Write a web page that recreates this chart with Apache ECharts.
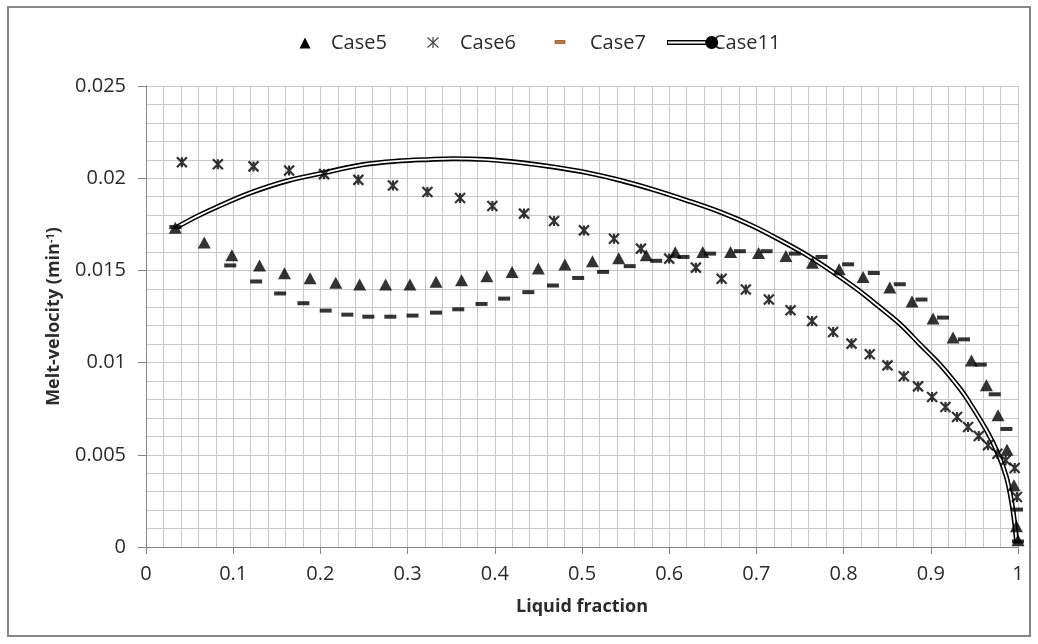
<!DOCTYPE html>
<html>
<head>
<meta charset="utf-8">
<script src="https://cdn.jsdelivr.net/npm/echarts@6/dist/echarts.min.js"></script>
<style>
  html, body { margin: 0; padding: 0; background: #fff; }
  #chart { width: 1038px; height: 644px; }
</style>
</head>
<body>
<div id="chart"></div>
<script>
// Melt-velocity against liquid fraction for four cases.
const case5X = [0.0336, 0.0668, 0.0985, 0.1302, 0.1588, 0.1882, 0.2176, 0.245, 0.2748, 0.3027,
  0.3326, 0.3619, 0.3909, 0.4198, 0.4499, 0.4804, 0.512, 0.5421, 0.5737, 0.6069,
  0.6385, 0.6704, 0.7025, 0.7338, 0.7643, 0.7949, 0.8224, 0.853, 0.8785, 0.9026,
  0.9255, 0.9466, 0.9638, 0.9771, 0.9874, 0.9954, 0.9982, 1.0];
const case5Y = [0.01731, 0.01651, 0.01582, 0.01527, 0.01485, 0.01458, 0.01433, 0.01424, 0.01424, 0.01424,
  0.01438, 0.01447, 0.01468, 0.01492, 0.0151, 0.01532, 0.0155, 0.01566, 0.01582, 0.01599,
  0.016, 0.016, 0.01594, 0.01578, 0.01542, 0.01506, 0.01464, 0.01407, 0.01332, 0.01239,
  0.01136, 0.01012, 0.00877, 0.00714, 0.00528, 0.00335, 0.00112, 0.00036];

const case6X = [0.0412, 0.0824, 0.1233, 0.1641, 0.2042, 0.2435, 0.2832, 0.3227, 0.3602, 0.3972,
  0.4335, 0.4679, 0.5023, 0.5367, 0.5676, 0.6, 0.6306, 0.6601, 0.6879, 0.7143,
  0.7392, 0.7639, 0.788, 0.8091, 0.83, 0.8503, 0.869, 0.8854, 0.9015, 0.9168,
  0.9301, 0.9427, 0.955, 0.9656, 0.9764, 0.9859, 0.9962, 0.9988];
const case6Y = [0.02087, 0.02076, 0.02064, 0.02042, 0.02022, 0.01991, 0.0196, 0.01925, 0.01893, 0.01849,
  0.01808, 0.01768, 0.01717, 0.01672, 0.01618, 0.01564, 0.01515, 0.01455, 0.01396, 0.01342,
  0.01284, 0.01226, 0.01166, 0.01103, 0.01045, 0.00985, 0.00926, 0.00871, 0.00813, 0.00759,
  0.00705, 0.00651, 0.00602, 0.00552, 0.00506, 0.0047, 0.00428, 0.00271];

const case7X = [0.0336, 0.0966, 0.1263, 0.1538, 0.1805, 0.2061, 0.2309, 0.255, 0.2802, 0.3057,
  0.3326, 0.3581, 0.3848, 0.4107, 0.4385, 0.4667, 0.4956, 0.5242, 0.5547, 0.5851,
  0.6164, 0.6469, 0.681, 0.7117, 0.7441, 0.7747, 0.8052, 0.8346, 0.8644, 0.8893,
  0.914, 0.9381, 0.9573, 0.9733, 0.9867, 0.9988, 1.0];
const case7Y = [0.01735, 0.01527, 0.0144, 0.01375, 0.01322, 0.01282, 0.0126, 0.01249, 0.01249, 0.01255,
  0.01271, 0.01289, 0.01318, 0.01347, 0.01382, 0.01418, 0.01459, 0.01492, 0.01523, 0.01552,
  0.01573, 0.01591, 0.01604, 0.01604, 0.01591, 0.01573, 0.01533, 0.01486, 0.01425, 0.01342,
  0.01244, 0.01126, 0.00989, 0.00828, 0.0064, 0.00203, 0.0003];

const case11X = [0.0355, 0.0584, 0.0814, 0.1195, 0.1616, 0.2043, 0.2494, 0.2876, 0.3258, 0.3525,
  0.3908, 0.429, 0.4671, 0.5054, 0.5435, 0.5817, 0.62, 0.6581, 0.6963, 0.7307,
  0.7613, 0.788, 0.8148, 0.8415, 0.8645, 0.8874, 0.9103, 0.9332, 0.9427, 0.9638,
  0.9771, 0.9867, 0.9924, 0.9962, 0.9985];
const case11Y = [0.01735, 0.01793, 0.01844, 0.0192, 0.01985, 0.0203, 0.02074, 0.02093, 0.02102, 0.02106,
  0.02101, 0.02085, 0.02061, 0.0203, 0.01989, 0.01938, 0.0188, 0.01817, 0.0174, 0.01655,
  0.01573, 0.0149, 0.014, 0.013, 0.0121, 0.011, 0.0099, 0.0086, 0.00796, 0.00633,
  0.00506, 0.0038, 0.00253, 0.00128, 0.0002];

const xTickLabels = ['0', '0.1', '0.2', '0.3', '0.4', '0.5', '0.6', '0.7', '0.8', '0.9', '1'];
const yTickLabels = ['0', '0.005', '0.01', '0.015', '0.02', '0.025'];

const seriesNames = ['Case5', 'Case6', 'Case7', 'Case11'];

const pairs = (xs, ys) => xs.map((x, i) => [x, ys[i]]);

const FONT = '"Open Sans", "Liberation Sans", sans-serif';
const TEXT = '#2b2b2b';
const GRID = '#c8c8c8';
const AXIS = '#868686';

const chart = echarts.init(document.getElementById('chart'), null, { renderer: 'canvas' });

const legendFont = '20px ' + FONT;

chart.setOption({
  animation: false,
  backgroundColor: '#fff',
  grid: { left: 146, right: 20, top: 86, bottom: 97, containLabel: false },
  xAxis: {
    type: 'value', min: 0, max: 1, interval: 0.1,
    name: 'Liquid fraction', nameLocation: 'middle', nameGap: 51,
    nameTextStyle: { fontFamily: FONT, fontSize: 18, fontWeight: 'bold', color: TEXT },
    axisLine: { show: true, onZero: false, lineStyle: { color: AXIS, width: 1 } },
    axisTick: { show: true, length: 7, lineStyle: { color: AXIS } },
    axisLabel: {
      margin: 17, fontFamily: FONT, fontSize: 20, color: TEXT,
      formatter: v => xTickLabels[Math.round(v * 10)]
    },
    splitLine: { show: true, lineStyle: { color: GRID, width: 1 } },
    minorTick: { show: false, splitNumber: 5 },
    minorSplitLine: { show: true, lineStyle: { color: GRID, width: 1 } }
  },
  yAxis: {
    type: 'value', min: 0, max: 0.025, interval: 0.005,
    name: 'Melt-velocity (min{sup|-1})', nameLocation: 'middle', nameGap: 83,
    nameTextStyle: {
      fontFamily: FONT, fontSize: 18, fontWeight: 'bold', color: TEXT,
      rich: { sup: { fontFamily: FONT, fontSize: 11, fontWeight: 'bold', color: TEXT, verticalAlign: 'top' } }
    },
    axisLine: { show: true, onZero: false, lineStyle: { color: AXIS, width: 1 } },
    axisTick: { show: true, length: 8, lineStyle: { color: AXIS } },
    axisLabel: {
      margin: 20, fontFamily: FONT, fontSize: 20, color: TEXT,
      formatter: v => yTickLabels[Math.round(v / 0.005)]
    },
    splitLine: { show: true, lineStyle: { color: GRID, width: 1 } },
    minorTick: { show: false, splitNumber: 5 },
    minorSplitLine: { show: true, lineStyle: { color: GRID, width: 1 } }
  },
  series: [
    {
      // outer dark stroke of the double line
      name: seriesNames[3], type: 'line', smooth: 0.35, z: 2,
      data: pairs(case11X, case11Y),
      showSymbol: false, symbol: 'none',
      lineStyle: { color: '#000', width: 5 }
    },
    {
      // light core of the double line
      name: seriesNames[3] + '-core', type: 'line', smooth: 0.35, z: 3,
      data: pairs(case11X, case11Y),
      showSymbol: false, symbol: 'none', silent: true,
      lineStyle: { color: '#fff', width: 1.8 }
    },
    {
      name: seriesNames[0], type: 'scatter', z: 4,
      data: pairs(case5X, case5Y),
      symbol: 'triangle', symbolSize: [13, 12],
      itemStyle: { color: '#000' }
    },
    {
      name: seriesNames[1], type: 'scatter', z: 4,
      data: pairs(case6X, case6Y),
      symbol: 'path://M0,0L10,10M10,0L0,10M5,0L5,10', symbolSize: [10, 10],
      itemStyle: { color: '#000', borderColor: '#000', borderWidth: 2.2 }
    },
    {
      name: seriesNames[2], type: 'scatter', z: 4,
      data: pairs(case7X, case7Y),
      symbol: 'rect', symbolSize: [12, 4],
      itemStyle: { color: '#000' }
    }
  ],
  graphic: [
    // chart frame
    { type: 'rect', z: 0, silent: true,
      shape: { x: 8, y: 7, width: 1022, height: 629 },
      style: { fill: 'none', stroke: '#878787', lineWidth: 2 } },
    // legend: Case5
    { type: 'polygon', z: 10, shape: { points: [[305, 37.5], [299.5, 48.5], [310.5, 48.5]] },
      style: { fill: '#000' } },
    { type: 'text', z: 10, style: { text: seriesNames[0], x: 331, y: 43, font: legendFont, fill: TEXT, verticalAlign: 'middle' } },
    // legend: Case6
    { type: 'polyline', z: 10, shape: { points: [[427.5, 37.5], [438.5, 47.5]] }, style: { stroke: '#444', lineWidth: 1.2 } },
    { type: 'polyline', z: 10, shape: { points: [[438.5, 37.5], [427.5, 47.5]] }, style: { stroke: '#444', lineWidth: 1.2 } },
    { type: 'polyline', z: 10, shape: { points: [[433, 37], [433, 48]] }, style: { stroke: '#444', lineWidth: 1.2 } },
    { type: 'text', z: 10, style: { text: seriesNames[1], x: 460, y: 43, font: legendFont, fill: TEXT, verticalAlign: 'middle' } },
    // legend: Case7
    { type: 'rect', z: 10, shape: { x: 555, y: 40.5, width: 10, height: 3 },
      style: { fill: '#c87533', stroke: '#6b3a10', lineWidth: 0.6 } },
    { type: 'text', z: 10, style: { text: seriesNames[2], x: 590, y: 43, font: legendFont, fill: TEXT, verticalAlign: 'middle' } },
    // legend: Case11
    { type: 'polyline', z: 10, shape: { points: [[667, 42.5], [710, 42.5]] }, style: { stroke: '#000', lineWidth: 5 } },
    { type: 'polyline', z: 11, shape: { points: [[668, 42.5], [710, 42.5]] }, style: { stroke: '#fff', lineWidth: 1.8 } },
    { type: 'text', z: 11, style: { text: seriesNames[3], x: 713, y: 43, font: legendFont, fill: TEXT, verticalAlign: 'middle' } },
    { type: 'circle', z: 12, shape: { cx: 711.7, cy: 42.5, r: 6.5 }, style: { fill: '#000' } }
  ]
});
</script>
</body>
</html>
